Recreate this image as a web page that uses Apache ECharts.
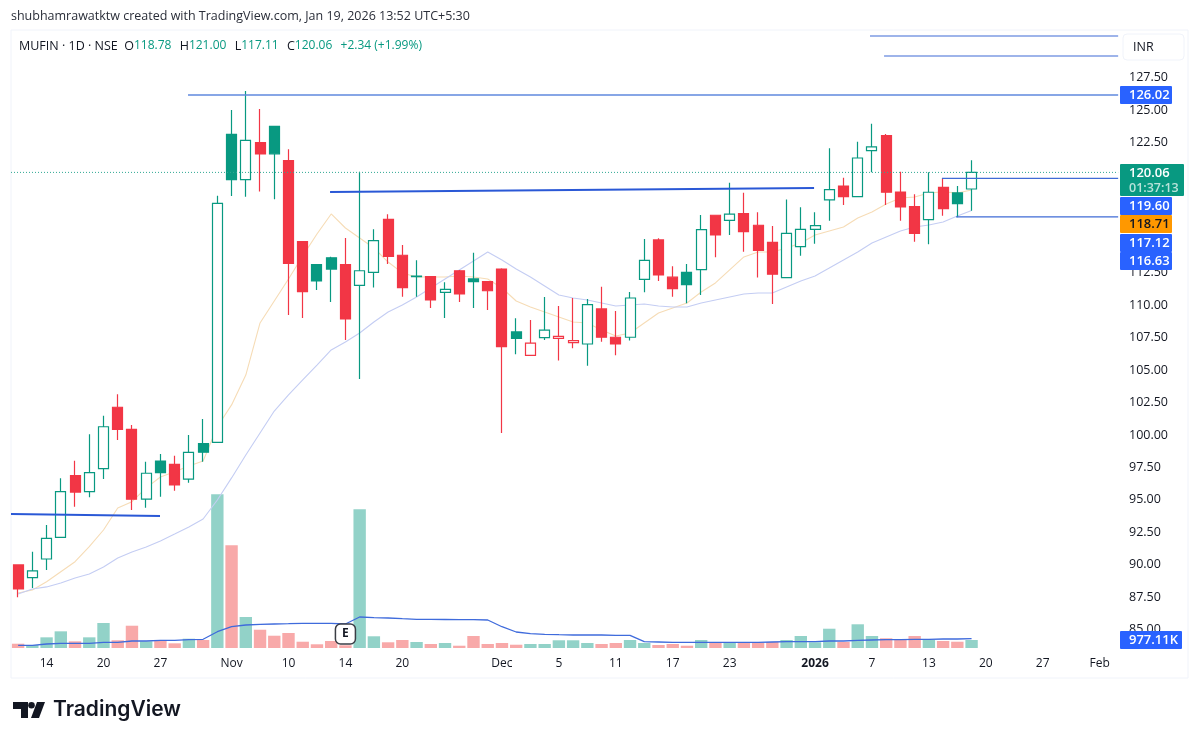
<!DOCTYPE html>
<html>
<head>
<meta charset="utf-8">
<script src="https://cdn.jsdelivr.net/npm/echarts@6/dist/echarts.min.js"></script>
<style>
html,body{margin:0;padding:0;background:#fff;}
#chart{width:1200px;height:742px;}
</style>
</head>
<body>
<div id="chart"></div>
<script>
var categories = ['2025-10-10','2025-10-13','2025-10-14','2025-10-15','2025-10-16','2025-10-17','2025-10-20','2025-10-21','2025-10-23','2025-10-24','2025-10-27','2025-10-28','2025-10-29','2025-10-30','2025-10-31',
'2025-11-03','2025-11-04','2025-11-06','2025-11-07','2025-11-10','2025-11-11','2025-11-12','2025-11-13','2025-11-14','2025-11-17','2025-11-18','2025-11-19','2025-11-20','2025-11-21','2025-11-24','2025-11-25','2025-11-26','2025-11-27','2025-11-28',
'2025-12-01','2025-12-02','2025-12-03','2025-12-04','2025-12-05','2025-12-08','2025-12-09','2025-12-10','2025-12-11','2025-12-12','2025-12-15','2025-12-16','2025-12-17','2025-12-18','2025-12-19','2025-12-22','2025-12-23','2025-12-24','2025-12-26','2025-12-29','2025-12-30','2025-12-31',
'2026-01-01','2026-01-02','2026-01-05','2026-01-06','2026-01-07','2026-01-08','2026-01-09','2026-01-12','2026-01-13','2026-01-14','2026-01-16','2026-01-19','2026-01-20','2026-01-21','2026-01-22','2026-01-23','2026-01-27','2026-01-28','2026-01-29','2026-01-30',
'2026-02-01','2026-02-02'];

var tickLabels = {'2025-10-14':'14','2025-10-20':'20','2025-10-27':'27','2025-11-03':'Nov','2025-11-10':'10','2025-11-14':'14','2025-11-20':'20','2025-12-01':'Dec','2025-12-05':'5','2025-12-11':'11','2025-12-17':'17','2025-12-23':'23','2026-01-01':'2026','2026-01-07':'7','2026-01-13':'13','2026-01-20':'20','2026-01-27':'27','2026-02-01':'Feb'};

var opens = [89.84,88.86,90.30,91.97,96.71,95.48,97.25,101.98,100.28,94.90,97.84,97.59,96.44,99.18,99.28,122.99,119.50,122.35,123.61,120.96,114.73,112.96,113.49,112.96,111.37,112.37,116.45,113.68,112.03,112.03,110.83,112.49,111.86,111.65,112.62,107.78,105.98,107.34,107.29,106.95,106.85,109.55,107.37,107.37,111.83,114.86,111.99,112.37,112.57,116.76,116.37,116.88,115.99,114.68,111.96,114.34,115.68,117.94,119.01,118.19,121.73,122.89,118.55,117.42,116.42,118.91,118.48,118.78];
var closes = [87.99,89.38,91.89,95.48,95.45,96.94,100.48,100.28,94.90,96.90,96.94,96.00,98.51,98.52,117.68,119.50,122.53,121.48,121.49,113.06,110.88,111.70,112.62,108.78,112.49,114.80,113.60,111.19,112.07,110.24,111.06,110.70,111.65,110.95,106.64,107.29,106.91,107.91,107.44,107.11,109.88,107.37,106.85,110.39,113.29,112.16,111.11,111.42,115.65,115.24,116.84,115.50,114.06,112.22,115.37,115.67,115.96,118.73,118.19,121.17,122.02,118.53,117.40,115.37,118.53,117.27,117.65,120.06];
var lows = [87.35,88.07,89.45,91.97,94.33,95.05,96.46,99.46,94.07,94.25,95.10,95.56,96.17,97.79,99.28,118.24,118.19,118.58,117.99,109.08,108.85,111.01,110.08,107.16,104.16,111.19,113.01,110.49,110.49,109.62,108.85,110.08,109.62,109.47,100.00,106.06,105.98,107.16,105.57,106.52,105.18,107.03,105.98,107.11,110.83,111.70,110.49,109.98,110.62,113.53,115.24,113.96,111.96,109.93,111.96,113.65,114.57,116.34,117.55,118.19,120.07,117.55,116.34,114.73,114.53,116.73,116.60,117.11];
var highs = [89.84,90.86,92.92,96.51,97.87,99.90,101.33,102.98,100.62,97.79,98.38,98.25,99.85,101.08,118.27,124.86,126.33,124.94,123.61,121.84,114.78,112.96,113.56,115.01,120.11,115.68,116.84,114.47,113.29,112.07,111.60,112.55,113.88,111.65,112.68,108.83,108.70,110.47,109.78,110.39,110.32,111.26,109.39,110.85,114.93,114.99,112.83,113.01,116.78,116.78,119.27,118.50,116.99,115.93,117.98,117.37,116.99,121.92,119.65,122.42,123.81,123.02,120.11,118.38,120.07,119.61,119.01,121.00];

var fastMa = [87.68,87.91,88.55,89.32,90.09,91.25,92.53,94.23,94.71,95.77,96.61,97.02,97.46,97.84,100.48,102.16,104.46,108.47,110.16,111.85,113.63,115.32,116.86,115.78,115.01,114.24,113.16,112.32,112.01,112.01,112.01,112.09,112.01,111.85,111.16,110.16,109.70,109.31,108.93,108.54,108.47,107.93,107.47,107.70,108.47,109.24,109.62,110.01,110.85,111.55,112.55,113.55,113.93,113.93,114.24,114.63,115.24,115.55,115.86,116.55,117.01,117.63,118.09,118.17,118.48,118.55,118.48,118.71];
var slowMa = [87.61,87.99,88.15,88.45,88.84,89.15,89.68,90.38,90.84,91.22,91.69,92.22,92.76,93.38,94.84,96.54,98.31,100.00,101.69,102.93,104.08,105.23,106.39,107.01,107.70,108.54,109.31,109.85,110.47,111.16,111.85,112.55,113.24,113.93,113.32,112.62,112.01,111.32,110.62,110.39,110.24,110.01,109.78,109.85,109.93,109.78,109.70,109.70,110.01,110.24,110.47,110.70,110.78,110.78,111.24,111.70,112.09,112.70,113.32,113.93,114.63,115.09,115.55,115.86,116.01,116.24,116.70,117.12];

// volume in thousands
var volumes = [450,315,1120,1750,700,1120,2625,810,2340,700,735,490,975,840,16140,10780,3255,1920,1290,1575,660,390,735,285,14560,1230,600,840,630,420,525,240,1260,420,525,345,420,420,810,810,525,420,525,840,525,315,420,240,840,555,555,555,555,630,840,1260,600,2025,630,2490,1260,1020,840,1260,840,735,660,840];
var volumeMa = [285,285,420,495,495,495,600,600,735,735,810,810,870,915,1710,2235,2415,2490,2520,2550,2595,2595,2595,2520,3255,3180,3150,3075,3015,3000,2990,2980,2970,2940,2235,1680,1500,1440,1395,1365,1365,1365,1335,1335,660,630,600,600,600,600,600,600,600,630,660,660,660,735,735,810,840,870,870,915,915,945,945,977.11];

// drawn lines, [bar index, price] pairs
var topLineA = [[59.86,130.56],[77.3,130.56]];
var topLineB = [[60.85,129.02],[77.3,129.02]];
var highLine = [[11.94,126.02],[77.3,126.02]];
var midLine = [[21.92,118.55],[55.93,118.86]];
var lowLine = [[-0.5,93.76],[9.97,93.61]];
var boxTop = [[64.92,119.60],[77.3,119.60]];
var boxBottom = [[65.91,116.63],[77.3,116.63]];
var lastPriceLine = [[-0.5,120.06],[77.3,120.06]];

var priceTags = ['126.02','119.60','118.71','117.12','116.63'];
var countdown = '01:37:13';
var volumeTag = '977.11K';

var UP = '#089981', DOWN = '#f23645';
var FONT = '"Open Sans", "Noto Sans", sans-serif';

var candleData = opens.map(function (o, i) {
    var c = closes[i];
    var prev = i > 0 ? closes[i - 1] : 90;
    var tone = c >= prev ? UP : DOWN;
    var fill = c > o ? '#ffffff' : tone;
    return {
        value: [o, c, lows[i], highs[i]],
        itemStyle: {color: fill, color0: fill, borderColor: tone, borderColor0: tone, borderWidth: 1.2}
    };
});

var volumeData = volumes.map(function (v, i) {
    return {value: v, itemStyle: {color: closes[i] > opens[i] ? '#92d2c8' : '#f8a9a9'}};
});

function drawnLine(data, color, width, type) {
    return {
        type: 'line', xAxisIndex: 2, yAxisIndex: 0, data: data, symbol: 'none', silent: true, z: 6,
        lineStyle: {color: color, width: width, type: type || 'solid'}
    };
}

function priceTag(text, y, h, bg, color, w) {
    return {
        type: 'group', x: 1120, y: y, children: [
            {type: 'rect', z: 100, shape: {x: 0, y: 0, width: w || 52, height: h, r: 1}, style: {fill: bg}},
            {type: 'text', z: 101, x: 9, y: h / 2, style: {text: text, fill: color, font: '600 13px ' + FONT, textVerticalAlign: 'middle'}}
        ]
    };
}

var chart = echarts.init(document.getElementById('chart'));
var option = {
    animation: false,
    backgroundColor: '#ffffff',
    textStyle: {fontFamily: FONT},
    title: [{
        text: 'shubhamrawatktw created with TradingView.com, Jan 19, 2026 13:52 UTC+5:30',
        left: 11, top: 10, padding: 0,
        textStyle: {fontSize: 12.5, fontWeight: 'normal', color: '#2a2e39', fontFamily: FONT}
    }, {
        text: '{k|MUFIN · 1D · NSE  O}{v|118.78}  {k|H}{v|121.00}  {k|L}{v|117.11}  {k|C}{v|120.06}  {v|+2.34 (+1.99%)}',
        left: 19, top: 38, padding: 0,
        textStyle: {
            fontWeight: 'normal',
            fontSize: 16,
            fontFamily: FONT,
            rich: {
                k: {fontSize: 12.5, fontWeight: 'normal', color: '#131722', fontFamily: FONT},
                v: {fontSize: 12, fontWeight: 'normal', color: UP, fontFamily: FONT}
            }
        }
    }],
    grid: [
        {left: 11, width: 1110, top: 10.8, height: 649.5},
        {left: 11, width: 1110, top: 490, height: 158}
    ],
    xAxis: [
        {type: 'category', gridIndex: 0, data: categories, show: false},
        {
            type: 'category', gridIndex: 1, data: categories,
            axisLine: {show: false}, axisTick: {show: false},
            axisLabel: {
                interval: function (i, v) { return tickLabels[v] !== undefined; },
                hideOverlap: false,
                margin: 10,
                fontSize: 12,
                color: '#131722',
                fontFamily: FONT,
                formatter: function (v) {
                    return tickLabels[v] === '2026' ? '{b|2026}' : tickLabels[v];
                },
                rich: {b: {fontWeight: 'bold', fontSize: 12, color: '#131722', fontFamily: FONT}}
            }
        },
        {type: 'value', gridIndex: 0, min: -0.5, max: 77.5, show: false}
    ],
    yAxis: [
        {
            type: 'value', gridIndex: 0, position: 'right', min: 82.5, max: 132.5, interval: 2.5,
            axisLine: {show: false}, axisTick: {show: false}, splitLine: {show: false},
            axisLabel: {
                margin: 8,
                formatter: function (v) {
                    return (v < 85 || v > 127.5) ? '' : '{p|' + v.toFixed(2) + '}';
                },
                rich: {p: {fontSize: 12.5, color: '#131722', fontFamily: FONT, padding: [4, 0, 0, 0]}}
            }
        },
        {type: 'value', gridIndex: 1, min: 0, max: 16590, show: false}
    ],
    series: [
        {
            type: 'bar', xAxisIndex: 1, yAxisIndex: 1, data: volumeData, barWidth: '87%', z: 1,
            markPoint: {
                symbol: 'roundRect', symbolSize: 20,
                itemStyle: {color: '#ffffff', borderColor: '#3a3d45', borderWidth: 1.5},
                label: {show: true, formatter: 'E', color: '#131722', fontSize: 12, fontWeight: 'bold', fontFamily: FONT},
                data: [{coord: [23, 1470]}]
            }
        },
        {
            type: 'line', xAxisIndex: 1, yAxisIndex: 1, data: volumeMa, symbol: 'none', z: 2,
            lineStyle: {color: '#3f6bdc', width: 1.3}
        },
        {
            type: 'line', xAxisIndex: 0, yAxisIndex: 0, data: fastMa, symbol: 'none', z: 3,
            lineStyle: {color: '#f6dcb6', width: 1.1}
        },
        {
            type: 'line', xAxisIndex: 0, yAxisIndex: 0, data: slowMa, symbol: 'none', z: 3,
            lineStyle: {color: '#c4cdf3', width: 1.1}
        },
        {type: 'candlestick', xAxisIndex: 0, yAxisIndex: 0, data: candleData, barWidth: 10.5, z: 4},
        drawnLine(lastPriceLine, '#2fa893', 1, [1, 2]),
        drawnLine(topLineA, '#3f6bd6', 1.2),
        drawnLine(topLineB, '#3f6bd6', 1.2),
        drawnLine(highLine, '#5f88de', 1.4),
        drawnLine(midLine, '#2a58d6', 2),
        drawnLine(lowLine, '#2a58d6', 2),
        drawnLine(boxTop, '#3f6bd6', 1.2),
        drawnLine(boxBottom, '#3f6bd6', 1.2)
    ],
    graphic: [
        {type: 'rect', z: 0, shape: {x: 11, y: 30, width: 1177, height: 648}, style: {fill: 'none', stroke: '#f0f3fa', lineWidth: 1}},
        // INR button
        {type: 'rect', z: 50, shape: {x: 1123, y: 34, width: 61, height: 26, r: 4}, style: {fill: '#fff', stroke: '#f0f3fa', lineWidth: 1}},
        {type: 'text', z: 51, x: 1133, y: 47, style: {text: 'INR', fill: '#131722', font: '12.5px ' + FONT, textVerticalAlign: 'middle'}},
        // axis tags
        priceTag(priceTags[0], 86, 18, '#2962ff', '#ffffff'),
        {
            type: 'group', x: 1120, y: 164, children: [
                {type: 'rect', z: 100, shape: {x: 0, y: 0, width: 64, height: 32, r: 1}, style: {fill: UP}},
                {type: 'text', z: 101, x: 9, y: 9, style: {text: '120.06', fill: '#ffffff', font: '600 13px ' + FONT, textVerticalAlign: 'middle'}},
                {type: 'text', z: 101, x: 9, y: 24, style: {text: countdown, fill: '#b8e3da', font: '600 12.5px ' + FONT, textVerticalAlign: 'middle'}}
            ]
        },
        priceTag(priceTags[1], 197, 18, '#2962ff', '#ffffff'),
        priceTag(priceTags[2], 215, 18, '#ff9800', '#131722'),
        priceTag(priceTags[3], 234, 18, '#2962ff', '#ffffff'),
        priceTag(priceTags[4], 252, 18, '#2962ff', '#ffffff'),
        priceTag(volumeTag, 631, 18, '#2962ff', '#ffffff', 62),
        // logo
        {type: 'polygon', z: 50, shape: {points: [[13,702],[28,702],[28,718],[21,718],[21,709],[13,709]]}, style: {fill: '#131722'}},
        {type: 'circle', z: 50, shape: {cx: 31.5, cy: 705.3, r: 3.3}, style: {fill: '#131722'}},
        {type: 'polygon', z: 50, shape: {points: [[37,702],[45,702],[39,718],[31,718]]}, style: {fill: '#131722'}},
        {type: 'text', z: 50, x: 53, y: 710, style: {text: 'TradingView', fill: '#131722', font: '600 21px Inter, ' + FONT, textVerticalAlign: 'middle'}}
    ]
};
chart.setOption(option);
</script>
</body>
</html>
